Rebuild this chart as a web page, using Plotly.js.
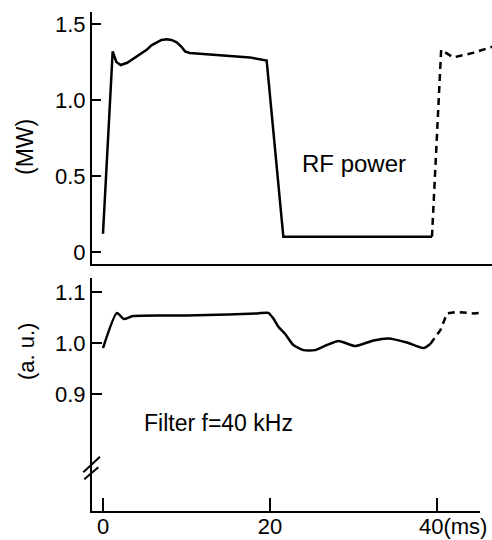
<!DOCTYPE html>
<html>
<head>
<meta charset="utf-8">
<script src="https://cdn.plot.ly/plotly-3.0.1.min.js"></script>
<style>html,body{margin:0;padding:0;background:#fff;}#chart{width:492px;height:540px;}</style>
</head>
<body>
<div id="chart"></div>
<script>
// RF power (MW), solid part
const rfTime = [0, 1.16, 1.6, 2.12, 2.9, 3.63, 4.4, 5.23, 5.8, 6.43, 7.0, 7.63, 8.2, 8.83, 9.4, 9.82, 10.4, 17.6, 19.6, 21.6, 30, 39.4];
const rfPower = [0.12, 1.32, 1.25, 1.23, 1.245, 1.27, 1.30, 1.33, 1.36, 1.38, 1.395, 1.40, 1.395, 1.38, 1.35, 1.32, 1.31, 1.28, 1.26, 0.10, 0.10, 0.10];
// RF power, dashed part
const rfTimeDash = [39.4, 40.5, 41.95, 44.3, 46.6];
const rfPowerDash = [0.10, 1.33, 1.28, 1.31, 1.35];
// Filter signal (a.u.), solid part
const fTime = [0, 1.68, 2.5, 3.6, 10, 15, 18.5, 19.8, 20.4, 21.0, 21.8, 22.8, 24.0, 25.4, 26.8, 28.2, 29.2, 30.2, 32.4, 34.2, 36.4, 38.4, 39.2];
const fVal = [0.990, 1.059, 1.047, 1.053, 1.054, 1.056, 1.058, 1.059, 1.048, 1.032, 1.018, 0.996, 0.986, 0.986, 0.996, 1.004, 0.999, 0.994, 1.005, 1.009, 1.001, 0.990, 0.998];
// Filter signal, dashed part
const fTimeDash = [39.2, 40.4, 41.2, 42.4, 44.4, 46.6];
const fValDash = [0.998, 1.025, 1.058, 1.061, 1.058, 1.061];
// ticks
const topTickVals = [0, 0.5, 1.0, 1.5];
const topTickText = ['0', '0.5', '1.0', '1.5'];
const botTickVals = [0.9, 1.0, 1.1];
const botTickText = ['0.9', '1.0', '1.1'];
const xTickVals = [0, 20, 40];
const xTickText = ['0', '20', ''];
const lastTickLabel = '40(ms)';

const FONT = 'Liberation Sans, Arial, sans-serif';
const lineStyle = {color: '#000', width: 2.5};
const dashStyle = {color: '#000', width: 2.5, dash: '7px,5px'};

const traces = [
  {x: rfTime, y: rfPower, xaxis: 'x', yaxis: 'y', mode: 'lines', line: lineStyle, hoverinfo: 'skip'},
  {x: rfTimeDash, y: rfPowerDash, xaxis: 'x', yaxis: 'y', mode: 'lines', line: dashStyle, hoverinfo: 'skip'},
  {x: fTime, y: fVal, xaxis: 'x2', yaxis: 'y2', mode: 'lines', line: Object.assign({shape: 'spline', smoothing: 0.6}, lineStyle), hoverinfo: 'skip'},
  {x: fTimeDash, y: fValDash, xaxis: 'x2', yaxis: 'y2', mode: 'lines', line: dashStyle, hoverinfo: 'skip'}
];

const layout = {
  width: 492, height: 540,
  margin: {l: 92, r: 0, t: 12, b: 29},
  paper_bgcolor: '#fff', plot_bgcolor: '#fff',
  showlegend: false,
  font: {family: FONT, size: 22, color: '#000'},
  xaxis: {domain: [0, 1], range: [-1.317, 46.59], anchor: 'y', showline: true, linewidth: 2, linecolor: '#000',
          showgrid: false, zeroline: false, ticks: '', showticklabels: false, fixedrange: true},
  yaxis: {domain: [0.495, 1], range: [-0.0789, 1.579], anchor: 'x', showline: true, linewidth: 2, linecolor: '#000',
          showgrid: false, zeroline: false, ticks: 'inside', ticklen: 9, tickwidth: 2, tickcolor: '#000',
          tickvals: topTickVals, ticktext: topTickText, tickfont: {size: 22}},
  xaxis2: {domain: [0, 0.97], range: [-1.317, 45.15], anchor: 'y2', showline: true, linewidth: 2, linecolor: '#000',
           showgrid: false, zeroline: false, ticks: 'inside', ticklen: 13, tickwidth: 2, tickcolor: '#000',
           tickvals: xTickVals, ticktext: xTickText, tickfont: {size: 22}, ticklabelstandoff: -5},
  yaxis2: {domain: [0, 0.467], range: [0.6706, 1.1275], anchor: 'x2', showline: true, linewidth: 2, linecolor: '#000',
           showgrid: false, zeroline: false, ticks: 'inside', ticklen: 10, tickwidth: 2, tickcolor: '#000',
           tickvals: botTickVals, ticktext: botTickText, tickfont: {size: 22}},
  annotations: [
    {text: '(MW)', xref: 'paper', yref: 'paper', x: -0.1675, y: 0.7295, xanchor: 'center', yanchor: 'middle',
     textangle: -90, showarrow: false, font: {size: 23}},
    {text: '(a. u.)', xref: 'paper', yref: 'paper', x: -0.165, y: 0.3186, xanchor: 'center', yanchor: 'middle',
     textangle: -90, showarrow: false, font: {size: 22}},
    {text: 'RF power', xref: 'x', yref: 'y', x: 30.06, y: 0.585, xanchor: 'center', yanchor: 'middle',
     showarrow: false, font: {size: 24}},
    {text: 'Filter f=40 kHz', xref: 'x2', yref: 'y2', x: 4.67, y: 0.843, xanchor: 'left', yanchor: 'middle',
     showarrow: false, font: {size: 23}},
    {text: lastTickLabel, xref: 'x2', yref: 'paper', x: 37.6, y: -0.032, xanchor: 'left', yanchor: 'middle',
     showarrow: false, font: {size: 22}}
  ],
  shapes: [
    {type: 'line', xref: 'paper', yref: 'paper', x0: -0.0218, y0: 0.0775, x1: 0.02, y1: 0.1088, line: {color: '#000', width: 2}},
    {type: 'line', xref: 'paper', yref: 'paper', x0: -0.0193, y0: 0.0635, x1: 0.0158, y1: 0.0876, line: {color: '#000', width: 2}}
  ]
};

Plotly.newPlot('chart', traces, layout, {staticPlot: true, displayModeBar: false});
</script>
</body>
</html>
